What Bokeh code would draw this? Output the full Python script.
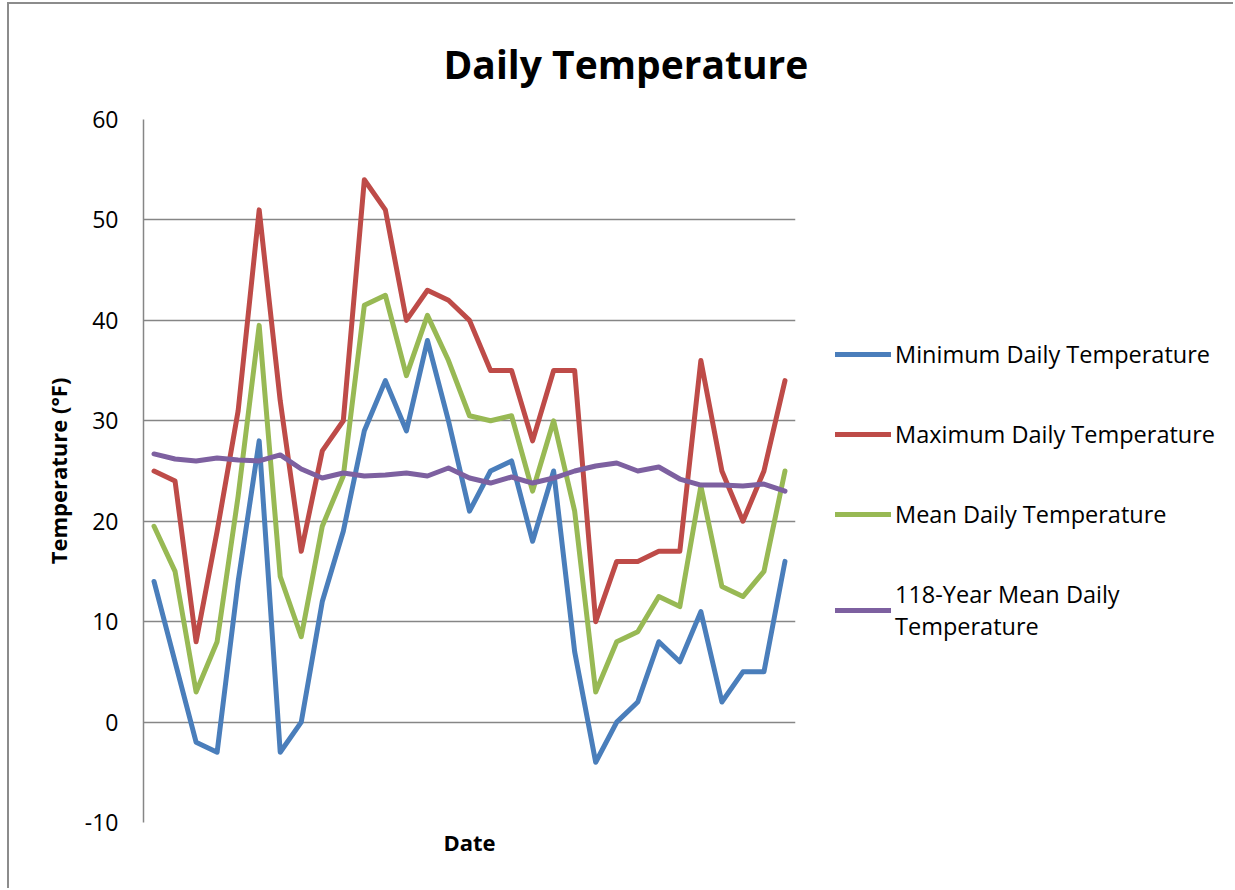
from bokeh.plotting import figure
from bokeh.models import Range1d, FixedTicker, Legend, LegendItem, Title
from bokeh.embed import file_html
from bokeh.resources import INLINE

days = [1, 2, 3, 4, 5, 6, 7, 8, 9, 10, 11, 12, 13, 14, 15, 16,
        17, 18, 19, 20, 21, 22, 23, 24, 25, 26, 27, 28, 29, 30, 31]
min_temp = [14, 6, -2, -3, 14, 28, -3, 0, 12, 19, 29, 34, 29, 38, 30, 21,
            25, 26, 18, 25, 7, -4, 0, 2, 8, 6, 11, 2, 5, 5, 16]
max_temp = [25, 24, 8, 19, 31, 51, 32, 17, 27, 30, 54, 51, 40, 43, 42, 40,
            35, 35, 28, 35, 35, 10, 16, 16, 17, 17, 36, 25, 20, 25, 34]
mean_temp = [19.5, 15, 3, 8, 22.5, 39.5, 14.5, 8.5, 19.5, 24.5, 41.5, 42.5,
             34.5, 40.5, 36, 30.5, 30, 30.5, 23, 30, 21, 3, 8, 9, 12.5, 11.5,
             23.5, 13.5, 12.5, 15, 25]
hist_mean = [26.7, 26.2, 26.0, 26.3, 26.1, 26.0, 26.6, 25.2, 24.3, 24.8, 24.5,
             24.6, 24.8, 24.5, 25.3, 24.3, 23.8, 24.4, 23.8, 24.3, 25.0, 25.5,
             25.8, 25.0, 25.4, 24.2, 23.6, 23.6, 23.5, 23.7, 23.0]
y_ticks = [-10, 0, 10, 20, 30, 40, 50, 60]
y_tick_labels = ["-10", "0", "10", "20", "30", "40", "50", "60"]
series_names = ["Minimum Daily Temperature", "Maximum Daily Temperature",
                "Mean Daily Temperature", "118-Year Mean Daily\nTemperature"]
colors = ["#4A7EBB", "#BE4B48", "#98B954", "#7D60A0"]

FONT = "Open Sans"
GRAY = "#868686"

p = figure(frame_width=652, frame_height=703, output_backend="svg",
           toolbar_location=None,
           x_range=Range1d(0.5, 31.5), y_range=Range1d(-10, 60),
           min_border_left=134, min_border_top=115, min_border_right=0,
           min_border_bottom=66)
p.styles = {"border-top": "2px solid #8c8c8c", "border-left": "2px solid #8c8c8c",
            "margin-left": "7px", "margin-top": "2px",
            "max-width": "1226px", "overflow": "hidden"}
p.outline_line_color = None
p.background_fill_color = "white"
p.border_fill_color = "white"

title = Title(text="Daily Temperature", align="left", offset=300,
              text_font=FONT, text_font_size="39px", text_font_style="bold",
              text_color="black", standoff=60)
p.add_layout(title, "above")

renderers = []
for vals, c in zip([min_temp, max_temp, mean_temp, hist_mean], colors):
    r = p.line(days, vals, line_color=c, line_width=5,
               line_join="round", line_cap="round")
    renderers.append(r)

# bottom axis: only the "Date" title
xa = p.below[0]
xa.ticker = FixedTicker(ticks=[])
xa.axis_line_color = None
xa.major_tick_line_color = None
xa.minor_tick_line_color = None
xa.major_tick_out = 0
xa.major_tick_in = 0
xa.major_label_standoff = 0
xa.axis_label = "Date"
xa.axis_label_text_font = FONT
xa.axis_label_text_font_size = "22px"
xa.axis_label_text_font_style = "bold"
xa.axis_label_text_color = "black"
xa.axis_label_standoff = 4

ya = p.left[0]
ya.ticker = FixedTicker(ticks=y_ticks)
ya.major_label_overrides = dict(zip(y_ticks, y_tick_labels))
ya.axis_line_color = GRAY
ya.axis_line_width = 1.5
ya.major_tick_line_color = None
ya.minor_tick_line_color = None
ya.major_tick_out = 0
ya.major_tick_in = 0
ya.major_label_standoff = 25
ya.major_label_text_font = FONT
ya.major_label_text_font_size = "23px"
ya.major_label_text_color = "black"
ya.axis_label = "Temperature (°F)"
ya.axis_label_text_font = FONT
ya.axis_label_text_font_size = "22px"
ya.axis_label_text_font_style = "bold"
ya.axis_label_text_color = "black"
ya.axis_label_standoff = 9

p.xgrid.grid_line_color = None
p.ygrid.ticker = FixedTicker(ticks=y_ticks)
p.ygrid.grid_line_color = GRAY
p.ygrid.grid_line_width = 1.5

items = [LegendItem(label=n, renderers=[r]) for n, r in zip(series_names, renderers)]
legend = Legend(items=items, location=(40, 180), orientation="vertical",
                glyph_width=56, glyph_height=32, label_height=32, label_standoff=4,
                spacing=48, padding=0, margin=0,
                label_text_font=FONT, label_text_font_size="23.5px",
                label_text_color="black",
                border_line_color=None, background_fill_alpha=0)
p.add_layout(legend, "right")

open("out.html", "w").write(file_html(p, INLINE))
